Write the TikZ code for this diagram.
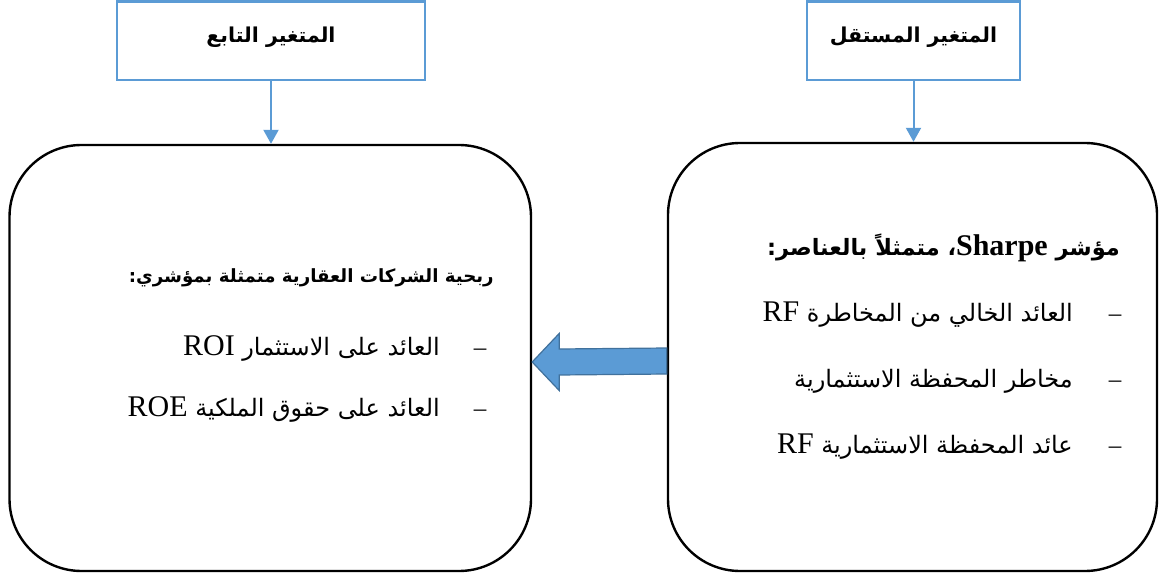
\documentclass[tikz,border=0pt]{standalone}
\usepackage{fontspec}
\setmainfont{Liberation Serif}
\newfontfamily\arabicfont[Script=Arabic]{DejaVu Sans}
\TeXXeTstate=1
\usetikzlibrary{calc,arrows.meta}
\definecolor{boxblue}{HTML}{5B9BD5}
\definecolor{arrowedge}{HTML}{41719C}
\newcommand{\artxt}{\arabicfont\fontsize{24}{28}\selectfont}
\newcommand{\lattxt}{\fontsize{30}{34}\selectfont}
\begin{document}
\begin{tikzpicture}[x=1pt,y=-1pt,
  titlebox/.style={draw=boxblue,line width=2.6pt,inner sep=0pt,
    text height=16pt,text depth=12pt,font=\arabicfont\fontsize{20.5}{24}\selectfont\bfseries},
  roundbox/.style={draw=black,line width=2.4pt,rounded corners=72pt,inner sep=0pt},
  downarrow/.style={draw=boxblue,line width=2pt,-{Triangle[length=14pt,width=15pt]}},
  itemtxt/.style={anchor=base east,inner sep=0pt},
  dashtxt/.style={anchor=base,inner sep=0pt,font=\rmfamily\fontsize{25}{28}\selectfont},
  bigarrow/.style={fill=boxblue,draw=arrowedge,line width=1.2pt,line join=miter}]
\useasboundingbox (0,0) rectangle (1159,577);

% top boxes
\node[titlebox,minimum width=308pt,minimum height=78.5pt] (tl) at (271,40.75)
  {\beginR المتغير التابع\endR};
\node[titlebox,minimum width=213pt,minimum height=78.5pt] (tr) at (913.5,40.75)
  {\beginR المتغير المستقل\endR};

% rounded boxes
\node[roundbox,minimum width=521.5pt,minimum height=426pt] (lb) at (270.25,358) {};
\node[roundbox,minimum width=489pt,minimum height=428pt] (rb) at (912.5,357) {};

% down arrows
\draw[downarrow] (tl.south) -- (tl.south |- lb.north);
\draw[downarrow] (tr.south) -- (tr.south |- rb.north);

% big block arrow from right box to left box
\coordinate (tip) at ($(lb.east)+(0,4)$);
\draw[bigarrow] (tip) -- ++(27,-28.5) -- ++(0,15.5) -- ($(rb.west)+(0,-9)$)
  -- ($(rb.west)+(0,17)$) -- ($(tip)+(27,13)$) -- ++(0,15.5) -- cycle;

% right box texts
\node[itemtxt] (rh) at (1120,256)
  {\arabicfont\fontsize{22.5}{26}\selectfont\bfseries\beginR مؤشر \beginL{\lattxt\bfseries\rmfamily Sharpe}\endL، متمثلاً بالعناصر:\endR};
\node[dashtxt] (rd1) at (1115,321) {–};
\node[itemtxt] (r1) at (1073,321)
  {\artxt\beginR العائد الخالي من المخاطرة \beginL{\lattxt\rmfamily RF}\endL\endR};
\node[dashtxt] (rd2) at (1115,387) {–};
\node[itemtxt] (r2) at (1073,387)
  {\artxt\beginR مخاطر المحفظة الاستثمارية\endR};
\node[dashtxt] (rd3) at (1115,453) {–};
\node[itemtxt] (r3) at (1073,453)
  {\artxt\beginR عائد المحفظة الاستثمارية \beginL{\lattxt\rmfamily RF}\endL\endR};

% left box texts
\node[itemtxt] (lh) at (494,283)
  {\arabicfont\fontsize{18.2}{22}\selectfont\bfseries\beginR ربحية الشركات العقارية متمثلة بمؤشري:\endR};
\node[dashtxt] (ld1) at (480,355) {–};
\node[itemtxt] (l1) at (440,355)
  {\artxt\beginR العائد على الاستثمار \beginL{\lattxt\rmfamily ROI}\endL\endR};
\node[dashtxt] (ld2) at (480,416) {–};
\node[itemtxt] (l2) at (440,416)
  {\artxt\beginR العائد على حقوق الملكية \beginL{\lattxt\rmfamily ROE}\endL\endR};
\end{tikzpicture}
\end{document}
